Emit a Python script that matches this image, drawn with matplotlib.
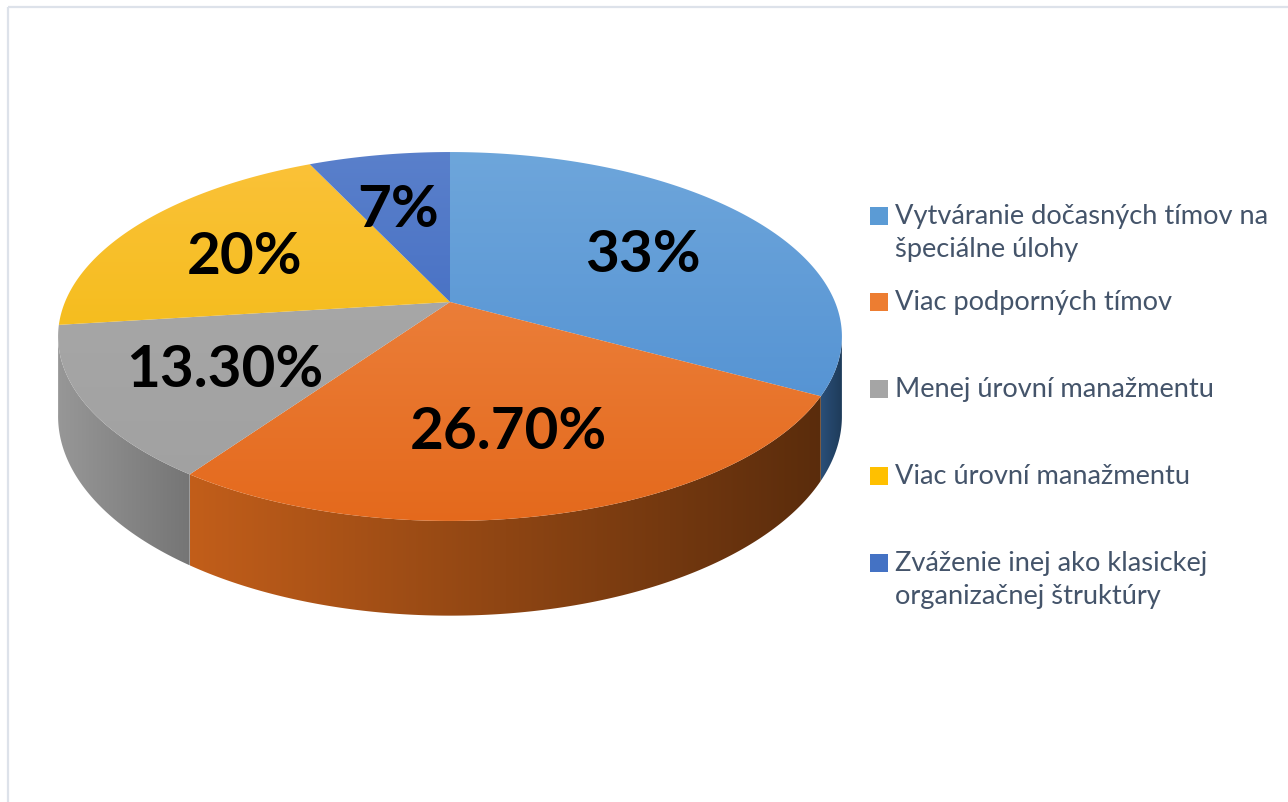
import numpy as np
import matplotlib
matplotlib.use('Agg')
import matplotlib.pyplot as plt
from matplotlib.patches import Polygon, Rectangle

# data
kategorie = ['Vytváranie dočasných tímov na\nšpeciálne úlohy',
             'Viac podporných tímov',
             'Menej úrovní manažmentu',
             'Viac úrovní manažmentu',
             'Zváženie inej ako klasickej\norganizačnej štruktúry']
hodnoty = [33, 26.7, 13.3, 20, 7]
popisky = ['33%', '26.70%', '13.30%', '20%', '7%']

# farby: vrch (hore, dole), bok (vlavo, vpravo), legenda
vrch_hore = ['#6ea6db', '#f08c4c', '#ababab', '#fbc23a', '#5a80cb']
vrch_dole = ['#4a8bd0', '#e4691c', '#a0a0a0', '#efb800', '#3360bd']
bok_vlavo = ['#2a4f78', '#c25e1a', '#979797', '#c89500', '#2c4d8c']
bok_vpravo = ['#1d3957', '#5a2c0c', '#757575', '#8a6700', '#1f3766']
legenda_farby = ['#5b9bd5', '#ed7d31', '#a5a5a5', '#ffc000', '#4472c4']

# geometria kolaca (pixely)
CX, CY = 450, 303
A, B, K, H = 385, 178, 0.187, 77


def proj(th, r=1.0, z=0.0):
    X = r * np.cos(th)
    Y = -r * np.sin(th)
    w = 1 - K * Y
    return CX + A * X / w, CY + (B * Y + H * z) / w


def rgb(c):
    return np.array(matplotlib.colors.to_rgb(c))


fig = plt.figure(figsize=(12.88, 8.03), dpi=100)
ax = fig.add_axes([0, 0, 1, 1])
ax.set_xlim(0, 1288)
ax.set_ylim(803, 0)
ax.axis('off')

# ramik
ax.add_patch(Rectangle((8.5, 7.5), 1300, 820, fill=False, ec='#dde2ea', lw=1.6))

uhly = np.radians(90 - np.cumsum([0] + hodnoty) * 3.6)

# boky - len viditelna predna cast, horizontalny prechod farby
gx = np.linspace(0, 1, 256)[None, :]
for i in range(len(hodnoty)):
    t1, t2 = uhly[i], uhly[i + 1]
    th = np.linspace(t1, t2, 400)
    th = th[-np.sin(th) >= K - 0.01]
    if len(th) < 2:
        continue
    horne = [proj(t) for t in th]
    dolne = [proj(t, z=1) for t in th[::-1]]
    poly = Polygon(horne + dolne, closed=True, fc='none', ec='none')
    ax.add_patch(poly)
    xs = [p[0] for p in horne]
    x0, x1 = min(xs), max(xs)
    c1, c2 = rgb(bok_vlavo[i]), rgb(bok_vpravo[i])
    img = c1[None, None, :] + (c2 - c1)[None, None, :] * gx[:, :, None]
    im = ax.imshow(img, extent=(x0, x1 + 1, 640, 300), aspect='auto',
                   interpolation='bilinear', zorder=1)
    im.set_clip_path(poly)

# vrch s vertikalnym prechodom
gy = np.linspace(0, 1, 256)[:, None]
for i in range(len(hodnoty)):
    th = np.linspace(uhly[i], uhly[i + 1], 200)
    body = [(CX, CY)] + [proj(t) for t in th]
    poly = Polygon(body, closed=True, fc='none', ec='none')
    ax.add_patch(poly)
    c1, c2 = rgb(vrch_hore[i]), rgb(vrch_dole[i])
    img = c1[None, None, :] + (c2 - c1)[None, None, :] * gy[:, :, None]
    im = ax.imshow(img, extent=(40, 860, 525, 150), aspect='auto',
                   interpolation='bilinear', zorder=2)
    im.set_clip_path(poly)

# popisky hodnot
for i in range(len(hodnoty)):
    stred = (uhly[i] + uhly[i + 1]) / 2
    x, y = proj(stred, r=0.63)
    ax.text(x - 4, y + 6, popisky[i], ha='center', va='center', fontsize=42,
            fontweight='bold', family='Lato', color='black', zorder=5)

# legenda
ly = [217, 303, 390, 477, 564]
for i, txt in enumerate(kategorie):
    ax.add_patch(Rectangle((870, ly[i] - 9), 18, 18,
                           fc=legenda_farby[i], ec='none'))
    ax.text(895, ly[i] - 13, txt, ha='left', va='top', fontsize=19.6,
            family='Lato', color='#44546a', linespacing=1.4)

fig.savefig('out.png', dpi=100)
